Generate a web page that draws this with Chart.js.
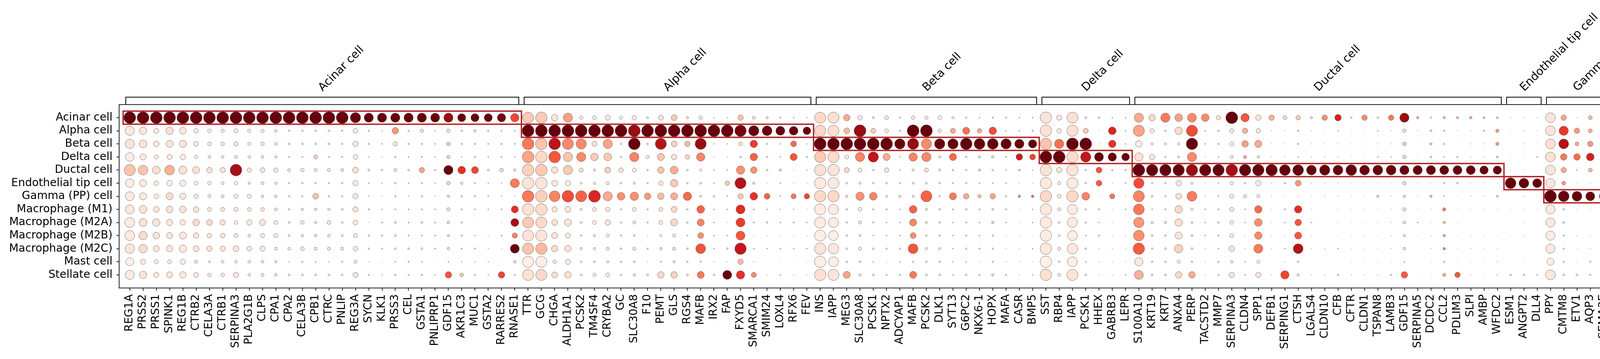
<!DOCTYPE html>
<html lang="en">
<head>
<meta charset="UTF-8">
<title>Marker gene dot plot</title>
<script src="https://cdn.jsdelivr.net/npm/chart.js@4.4.1/dist/chart.umd.min.js"></script>
<style>
  html, body { margin: 0; padding: 0; background: #fff; }
  #wrap { position: relative; width: 5471px; height: 920px; }
  #dots { position: absolute; left: 0; top: 0; }
  #totals { position: absolute; left: 5084px; top: 0; }
</style>
</head>
<body>
<div id="wrap">
  <canvas id="dots" width="5471" height="920"></canvas>
  <canvas id="totals" width="300" height="920"></canvas>
</div>
<script>
const cellTypes = ['Acinar cell', 'Alpha cell', 'Beta cell', 'Delta cell', 'Ductal cell',
  'Endothelial tip cell', 'Gamma (PP) cell', 'Macrophage (M1)', 'Macrophage (M2A)',
  'Macrophage (M2B)', 'Macrophage (M2C)', 'Mast cell', 'Stellate cell'];
const cellCounts = [8363, 24050, 27558, 4577, 8192, 1541, 1851, 406, 59, 187, 148, 259, 5525];

const genes = [
  'REG1A','PRSS2','PRSS1','SPINK1','REG1B','CTRB2','CELA3A','CTRB1','SERPINA3','PLA2G1B',
  'CLPS','CPA1','CPA2','CELA3B','CPB1','CTRC','PNLIP','REG3A','SYCN','KLK1',
  'PRSS3','CEL','GSTA1','PNLIPRP1','GDF15','AKR1C3','MUC1','GSTA2','RARRES2','RNASE1',
  'TTR','GCG','CHGA','ALDH1A1','PCSK2','TM4SF4','CRYBA2','GC','SLC30A8','F10',
  'PEMT','GLS','RGS4','MAFB','IRX2','FAP','FXYD5','SMARCA1','SMIM24','LOXL4',
  'RFX6','FEV','INS','IAPP','MEG3','SLC30A8','PCSK1','NPTX2','ADCYAP1','MAFB',
  'PCSK2','DLK1','SYT13','G6PC2','NKX6-1','HOPX','MAFA','CASR','BMP5','SST',
  'RBP4','IAPP','PCSK1','HHEX','GABRB3','LEPR','S100A10','KRT19','KRT7','ANXA4',
  'PERP','TACSTD2','MMP7','SERPINA3','CLDN4','SPP1','DEFB1','SERPING1','CTSH','LGALS4',
  'CLDN10','CFB','CFTR','CLDN1','TSPAN8','LAMB3','GDF15','SERPINA5','DCDC2','CCL2',
  'PDLIM3','SLPI','AMBP','WFDC2','ESM1','ANGPT2','DLL4','PPY','CMTM8','ETV1',
  'AQP3','SEMA3E','IFNGR1','IFNGR2','STAT1','CLEC7A','STAT6','SOCS3','MSR1','SOCS3',
  'SCARB1','SRGN','COL6A2','COL1A2','COL1A1','SPARC','COL6A1','COL3A1','COL4A1','PDGFRB',
  'SPON2','TIMP3','TGFB1','COL6A3','FN1','GEM','SFRP2','NDUFA4L2','MGP','INHBA'];

// marker groups, in gene order; each group belongs to the cell type of the same index
const groupLabels = cellTypes;
const groupSizes = [30, 22, 17, 7, 28, 3, 5, 3, 2, 1, 3, 1, 18];

// fraction of cells in group expressing the gene (%)
const fracAcinar = [95,95,95,95,92,92,90,90,90,90, 92,90,88,88,88,85,85,66,57,57, 57,57,57,55,57,48,48,48,50,50,
  73,76,36,57,15,18,26,15,22,7, 26,31,9,16,2,2,28,13,9,5, 3,2,73,73,35,22,8,18,5,16,
  15,18,9,5,3,5,5,3,3,76, 26,73,8,6,3,3,57,36,57,45, 55,45,22,90,50,28,28,18,22,9,
  28,36,5,28,6,28,57,9,5,9, 9,10,7,7,1,1,1,62,28,1, 18,1,18,18,10,0,9,9,0,9,
  3,1,3,3,7,3,5,2,2,1, 3,3,14,2,9,5,2,2,2,3];
const fracAlpha = [57,42,26,42,37,23,16,14,20,14, 14,11,6,6,6,6,5,23,5,2, 36,5,14,2,16,5,10,5,3,3,
  85,85,85,85,80,80,80,80,80,80, 80,80,80,80,80,80,76,66,62,55, 53,45,73,73,31,80,26,18,5,80,
  80,15,26,40,22,43,3,3,5,76, 22,73,26,1,45,3,73,22,6,43, 73,3,5,20,28,22,1,1,6,1,
  0.5,3,0.5,0.5,3,1,16,1,7,5, 1,1,5,14,0.5,1,0.5,62,57,28, 18,18,9,28,31,0,6,7,0,7,
  6,0.5,1,2,3,1,6,1,1,0.5, 6,5,6,1,1,6,1,1,1,28];
const fracBeta = [57,45,29,40,40,24,18,16,20,14, 16,12,7,7,7,7,5,27,5,3, 20,5,5,3,16,5,5,4,5,3,
  78,78,78,73,66,26,57,5,78,6, 73,31,28,73,2,2,18,43,5,3, 31,2,80,80,80,78,80,80,66,73,
  66,66,66,78,70,70,66,57,50,76, 57,80,80,1,43,3,36,9,9,10, 76,3,5,20,36,40,1,1,5,1,
  1,1,0.5,0.5,1,1,16,0.5,9,5, 0.5,1,1,14,0,1,0.5,62,62,18, 28,0.5,31,36,31,0,6,7,0,7,
  5,0.5,1,1,3,1,5,1,1,0.5, 6,3,36,1,1,28,1,5,1,9];
const fracDelta = [52,33,19,26,29,16,11,11,13,11, 11,10,4,4,19,4,4,23,2,1, 5,3,4,2,15,2,5,3,4,2,
  78,78,78,57,57,43,45,5,57,15, 40,28,22,50,1,1,6,43,6,3, 40,5,73,75,18,57,66,40,3,50,
  57,9,40,6,9,10,5,36,31,80, 80,75,66,55,50,45,50,28,5,7, 57,1,3,13,14,10,1,1,3,1,
  1,1,0.5,0.5,3,2,15,0.5,7,3, 5,1,1,7,0.5,0.5,3,62,36,36, 45,18,9,14,10,0,5,5,0,5,
  1,0.5,5,1,1,1,6,1,1,0.5, 6,3,6,0.5,1,6,1,1,0.5,3];
const fracDuctal = [73,61,45,61,47,40,29,27,78,21, 24,21,12,16,14,14,12,31,7,5, 14,6,27,4,57,45,40,7,17,10,
  78,78,36,57,20,9,31,22,18,5, 36,45,6,9,3,3,50,36,6,9, 1,2,76,76,26,18,6,22,3,9,
  20,9,6,5,9,6,3,7,2,76, 28,76,6,31,5,5,80,76,76,76, 76,76,76,78,76,76,76,70,70,62,
  66,62,70,62,62,62,57,57,57,55, 55,55,50,50,0.5,0.5,0,62,28,3, 18,5,40,57,36,0,31,9,0,9,
  3,0.5,5,3,10,1,9,1,10,0.5, 3,3,7,1,3,6,1,1,1,3];
const fracEndothelial = [52,40,23,29,33,19,16,11,16,9, 12,10,4,6,5,4,5,27,3,2, 6,3,4,2,16,10,4,2,2,55,
  78,78,31,27,7,9,14,6,9,5, 22,43,5,7,3,22,73,9,1,3, 1,1,76,73,6,9,6,6,5,7,
  7,6,5,5,3,3,3,1,1,76, 14,73,6,31,1,3,66,5,5,28, 9,1,3,16,5,28,1,6,31,1,
  1,1,0.5,0.5,0.5,0.5,16,0.5,0.5,5, 6,0.5,0.5,0.5,70,62,55,57,18,0.5, 1,0.5,43,43,6,1,5,66,0.5,66,
  5,45,28,3,3,73,5,1,73,0.5, 1,57,45,1,3,1,1,2,31,1];
const fracGamma = [55,40,24,40,33,21,14,12,20,19, 11,10,4,5,31,5,4,27,2,1, 5,2,5,1,10,6,5,3,2,1,
  78,78,70,78,73,80,57,45,50,36, 36,40,50,7,6,3,28,45,31,3, 26,28,76,76,9,50,45,7,9,7,
  73,6,40,28,14,28,5,10,10,76, 18,76,45,0.5,26,1,73,7,5,31, 62,1,3,20,14,14,1,0.5,1,0.5,
  1,1,0.5,0.5,9,1,10,0.5,9,3, 0.5,1,1,7,0,1,0.5,80,70,62, 55,50,9,28,28,0,5,6,0,6,
  0,0.5,5,2,2,1,6,1,1,0.5, 14,2,6,0.5,1,7,1,1,1,5];
const fracM1 = [55,45,31,37,37,29,19,19,20,17, 17,12,6,10,11,10,7,27,5,2, 4,4,4,3,15,5,3,3,3,40,
  78,78,27,31,9,18,22,5,18,5, 18,31,5,45,3,3,55,5,3,2, 2,1,73,64,6,18,5,5,3,45,
  9,6,5,6,5,7,5,1,3,76, 14,64,5,5,1,3,70,3,5,43, 9,3,5,20,3,43,1,5,43,1,
  0,1,0.5,1,0.5,1,15,0.5,1,14, 0.5,0.5,0.5,1,0.5,0.5,0.5,57,6,0.5, 1,0.5,62,57,55,28,10,18,45,18,
  10,76,3,3,6,1,3,1,1,1, 1,3,43,1,0.5,0.5,1,2,1,3];
const fracM2A = [63,47,43,33,28,36,31,27,17,27, 33,18,7,16,9,18,7,23,1,4, 7,4,7,4,12,5,0.3,0.3,1,47,
  73,73,31,40,7,18,28,5,13,5, 18,40,6,40,3,1,55,5,6,3, 5,3,73,64,6,13,5,3,3,40,
  7,6,3,5,3,9,3,1,3,76, 7,64,5,3,1,0,66,10,9,43, 7,3,6,17,3,45,1,3,36,3,
  0,1,0.5,0.5,0.5,1,12,3,0.5,9, 0.5,0,0,0,0,0.5,0,57,7,0, 0,0.5,14,28,7,55,50,6,31,6,
  6,76,0.5,1,0.5,6,0.5,0,2,0, 0.5,3,36,0.5,0,2,1,2,1,2];
const fracM2B = [63,50,36,33,40,28,23,23,18,11, 20,20,7,11,11,11,7,20,5,5, 7,4,4,4,9,5,2,1,4,27,
  73,75,33,26,6,9,14,5,7,1, 7,14,3,31,3,3,55,1,1,1, 1,1,73,62,6,7,3,3,3,31,
  6,6,3,5,3,5,1,1,0.5,76, 7,62,3,5,1,1,70,7,6,40, 7,3,5,18,1,43,1,1,40,1,
  0,0.5,0.5,1,0.5,1,9,0.5,1,10, 0.5,1,0.5,0.5,0.5,1,0,57,5,1, 1,0.5,28,31,9,9,6,55,31,55,
  3,76,1,1,1,1,1,1,0.5,0, 1,5,40,1,1,2,1,2,1,6];
const fracM2C = [60,50,33,35,43,31,27,26,30,23, 26,13,11,18,13,13,13,23,5,4, 6,6,7,4,11,4,4,1.5,1,55,
  73,75,35,35,9,10,14,6,14,5, 10,14,6,62,3,6,76,3,3,3, 3,3,76,68,6,14,6,5,5,62,
  9,9,3,5,5,5,1,1,3,76, 14,68,6,1,1,1,76,6,7,50, 7,1,3,30,1,55,1,3,62,1,
  1,3,0.5,0.5,0.5,1,11,0,1,10, 0.5,1,0.5,1,0,0,0,57,5,0.5, 1,0.5,43,43,18,36,9,57,70,57,
  43,76,1,3,2,1,1,1,1,0.5, 3,1,43,3,0.5,1,1,1,1,6];
const fracMast = [47,26,20,18,26,13,7,11,11,11, 11,9,2,5,3,2,5,13,1,0.5, 3,4,3,0.5,3,2,1.5,1.5,0.5,11,
  73,73,16,27,6,7,9,6,7,1, 5,9,5,5,1,1,28,1,0,0.5, 0.5,0.5,76,62,6,7,3,1,3,5,
  6,6,3,3,1,5,1,1,1,76, 7,62,3,1,1,1,50,6,6,14, 6,1,5,11,3,14,0,1,6,0,
  0,0,0.5,0.5,0.5,0.5,3,0,0.5,5, 0.5,0.5,0.5,1,0,0.5,0,40,5,0.5, 5,0.5,9,9,3,1,1,7,0.5,7,
  0,62,0.5,0.5,0.5,0.5,0.5,0.5,0.3,0.5, 0.5,5,31,0.5,0.5,0.5,0.5,0.5,0.3,1];
const fracStellate = [57,43,26,33,35,26,16,16,28,11, 13,11,7,7,7,7,6,26,4,2, 6,4,5,2,36,16,4,2,36,4,
  73,73,31,36,7,14,18,6,10,7, 36,36,7,40,6,55,50,26,1,3, 1,1,76,73,40,10,7,5,5,40,
  7,7,3,6,5,9,5,1,3,76, 14,73,7,1,1,3,55,7,7,36, 36,1,5,28,3,28,1,50,9,1,
  1,6,1,1,1,5,36,0.5,0.5,14, 28,1,0.5,2,5,6,3,62,7,7, 5,0.5,40,36,18,0.5,10,28,0.5,28,
  5,7,70,80,80,80,70,66,66,62, 62,62,62,57,55,55,50,50,45,45];

// mean expression in group, scaled per gene to 0..1
const exprAcinar = [1,1,1,1,1,1,1,1,1,1, 1,1,1,1,1,1,1,1,1,1, 1,1,1,1,0.9,1,1,1,0.98,0.6,
  0.2,0.2,0.1,0.33,0.06,0.08,0.08,0.05,0.07,0.05, 0.12,0.2,0.05,0.1,0.05,0.05,0.22,0.1,0.05,0.05,
  0.05,0.05,0.15,0.12,0.3,0.07,0.05,0.07,0.05,0.1, 0.06,0.05,0.05,0.05,0.05,0.05,0.05,0.05,0.05,0.1,
  0.08,0.12,0.05,0.05,0.05,0.05,0.3,0.15,0.45,0.33, 0.4,0.4,0.1,1,0.55,0.1,0.28,0.15,0.2,0.1,
  0.38,0.72,0.05,0.4,0.08,0.45,0.9,0.3,0.05,0.25, 0.25,0.3,0.22,0.2,0.05,0.05,0.05,0.1,0.32,0.05,
  0.25,0.05,0.32,0.25,0.3,0,0.4,0.15,0,0.15, 0.05,0.05,0.05,0.05,0.08,0.05,0.05,0.05,0.05,0.05,
  0.05,0.05,0.2,0.05,0.25,0.05,0.05,0.05,0.05,0.05];
const exprAlpha = [0.08,0.08,0.06,0.12,0.07,0.07,0.06,0.06,0.07,0.06, 0.06,0.06,0.05,0.05,0.05,0.05,0.05,0.06,0.05,0.05,
  0.36,0.05,0.1,0.05,0.13,0.05,0.08,0.05,0.05,0.05, 1,1,1,1,1,1,1,1,0.9,1,
  1,1,1,1,1,1,0.97,1,1,1, 1,1,0.15,0.12,0.25,0.9,0.2,0.07,0.05,1,
  1,0.05,0.3,0.48,0.3,0.58,0.05,0.05,0.05,0.12, 0.06,0.12,0.2,0.05,0.7,0.05,0.32,0.06,0.05,0.15,
  0.58,0.05,0.05,0.07,0.28,0.08,0.05,0.05,0.05,0.05, 0.05,0.05,0.05,0.05,0.05,0.05,0.13,0.05,0.12,0.05,
  0.05,0.05,0.05,0.35,0.05,0.05,0.05,0.1,0.64,0.35, 0.28,0.55,0.1,0.25,0.6,0,0.2,0.08,0,0.08,
  0.2,0.05,0.05,0.05,0.05,0.05,0.1,0.05,0.05,0.05, 0.1,0.05,0.1,0.05,0.05,0.1,0.05,0.05,0.05,0.4];
const exprBeta = [0.1,0.1,0.08,0.1,0.09,0.08,0.08,0.08,0.08,0.07, 0.08,0.07,0.05,0.05,0.05,0.05,0.05,0.08,0.05,0.05,
  0.07,0.05,0.05,0.05,0.2,0.05,0.05,0.05,0.05,0.05, 0.45,0.22,0.8,0.4,0.4,0.12,0.32,0.05,1,0.05,
  0.82,0.18,0.25,0.9,0.05,0.05,0.1,0.62,0.05,0.05, 0.5,0.05,1,1,1,1,1,1,1,0.9,
  0.4,1,1,1,1,1,1,1,1,0.22, 0.48,1,1,0.05,0.66,0.05,0.06,0.05,0.05,0.05,
  1,0.05,0.05,0.08,0.33,0.3,0.05,0.05,0.05,0.05, 0.05,0.05,0.05,0.05,0.05,0.05,0.2,0.05,0.2,0.05,
  0.05,0.05,0.05,0.35,0,0.05,0.05,0.12,0.82,0.3, 0.35,0.05,0.4,0.32,0.64,0,0.1,0.06,0,0.06,
  0.05,0.05,0.05,0.05,0.05,0.05,0.05,0.05,0.05,0.05, 0.1,0.05,0.3,0.05,0.05,0.5,0.05,0.1,0.05,0.25];
const exprDelta = [0.04,0.06,0.05,0.06,0.05,0.05,0.05,0.05,0.05,0.05, 0.05,0.05,0.05,0.05,0.18,0.05,0.05,0.06,0.05,0.05,
  0.05,0.05,0.05,0.05,0.16,0.05,0.05,0.05,0.05,0.05, 0.32,0.15,0.55,0.22,0.4,0.2,0.2,0.05,0.42,0.08,
  0.22,0.12,0.15,0.42,0.05,0.05,0.05,0.52,0.05,0.05, 0.56,0.05,0.2,0.14,0.05,0.42,0.78,0.3,0.05,0.42,
  0.4,0.05,0.5,0.05,0.1,0.12,0.05,0.74,0.6,1, 1,0.14,0.78,1,1,1,0.12,0.08,0.05,0.05,
  0.4,0.05,0.05,0.06,0.3,0.1,0.05,0.05,0.05,0.05, 0.05,0.05,0.05,0.05,0.05,0.05,0.16,0.05,0.12,0.05,
  0.05,0.05,0.05,0.2,0.05,0.05,0.05,0.12,0.45,0.5, 0.72,0.48,0.06,0.12,0.25,0,0.05,0.05,0,0.05,
  0.05,0.05,0.05,0.05,0.05,0.05,0.05,0.05,0.05,0.05, 0.05,0.05,0.05,0.05,0.05,0.05,0.05,0.05,0.05,0.05];
const exprDuctal = [0.22,0.22,0.13,0.28,0.12,0.12,0.1,0.1,0.87,0.08, 0.1,0.08,0.07,0.08,0.08,0.08,0.07,0.12,0.07,0.06,
  0.08,0.06,0.32,0.05,1,0.66,0.6,0.05,0.15,0.05, 0.18,0.2,0.12,0.2,0.12,0.06,0.18,0.1,0.07,0.05,
  0.22,0.3,0.05,0.05,0.05,0.05,0.38,0.38,0.05,0.1, 0.05,0.05,0.12,0.1,0.15,0.07,0.05,0.1,0.05,0.05,
  0.12,0.05,0.05,0.05,0.12,0.05,0.05,0.15,0.05,0.1, 0.1,0.1,0.05,0.56,0.05,0.05,1,1,1,1,
  0.9,1,1,0.87,1,1,1,1,1,1, 1,1,1,1,1,1,1,1,1,1,
  1,1,1,1,0.05,0.05,0,0.1,0.3,0.05, 0.25,0.05,0.45,1,0.56,0,0.7,0.1,0,0.1,
  0.05,0.05,0.05,0.05,0.12,0.05,0.15,0.05,0.2,0.05, 0.05,0.05,0.08,0.05,0.05,0.1,0.05,0.05,0.05,0.05];
const exprEndothelial = [0.05,0.06,0.05,0.05,0.05,0.05,0.05,0.05,0.05,0.05, 0.05,0.05,0.05,0.05,0.05,0.05,0.05,0.07,0.05,0.05,
  0.05,0.05,0.05,0.05,0.15,0.08,0.05,0.05,0.05,0.45, 0.1,0.1,0.08,0.05,0.05,0.05,0.07,0.05,0.05,0.05,
  0.07,0.2,0.05,0.05,0.05,0.2,0.82,0.1,0.05,0.05, 0.05,0.05,0.07,0.07,0.05,0.05,0.05,0.05,0.05,0.05,
  0.05,0.05,0.05,0.05,0.05,0.05,0.05,0.05,0.05,0.07, 0.06,0.07,0.05,0.54,0.05,0.05,0.58,0.05,0.05,0.08,
  0.06,0.05,0.05,0.06,0.05,0.06,0.05,0.05,0.36,0.05, 0.05,0.05,0.05,0.05,0.05,0.05,0.15,0.05,0.05,0.05,
  0.1,0.05,0.05,0.05,1,1,1,0.08,0.35,0.05, 0.05,0.05,0.42,0.48,0.1,0.05,0.05,1,0.05,1,
  0.1,0.33,0.12,0.05,0.05,0.9,0.05,0.05,1,0.05, 0.05,0.48,0.56,0.05,0.05,0.05,0.05,0.05,0.4,0.05];
const exprGamma = [0.07,0.07,0.06,0.14,0.07,0.06,0.06,0.06,0.06,0.08, 0.06,0.06,0.05,0.05,0.22,0.05,0.05,0.08,0.05,0.05,
  0.05,0.05,0.05,0.05,0.1,0.05,0.05,0.05,0.05,0.05, 0.45,0.18,0.42,0.58,0.52,0.7,0.3,0.38,0.38,0.35,
  0.25,0.28,0.5,0.08,0.05,0.05,0.2,0.66,0.52,0.05, 0.46,0.6,0.15,0.15,0.08,0.38,0.42,0.05,0.06,0.08,
  0.52,0.05,0.45,0.3,0.25,0.32,0.05,0.4,0.48,0.15, 0.08,0.15,0.42,0.05,0.46,0.05,0.42,0.05,0.05,0.1,
  0.44,0.05,0.05,0.06,0.1,0.06,0.05,0.05,0.05,0.05, 0.05,0.05,0.05,0.05,0.15,0.05,0.1,0.05,0.25,0.05,
  0.05,0.05,0.05,0.18,0,0.05,0.05,1,1,1, 1,1,0.1,0.25,0.5,0,0.05,0.05,0,0.05,
  0,0.05,0.05,0.05,0.05,0.05,0.05,0.05,0.05,0.05, 0.15,0.05,0.05,0.05,0.05,0.15,0.05,0.05,0.05,0.1];
const exprM1 = [0.08,0.1,0.1,0.12,0.1,0.1,0.08,0.08,0.08,0.08, 0.08,0.07,0.06,0.06,0.07,0.06,0.06,0.1,0.06,0.05,
  0.05,0.05,0.05,0.05,0.14,0.05,0.05,0.05,0.05,0.67, 0.12,0.14,0.08,0.08,0.05,0.08,0.08,0.05,0.07,0.05,
  0.08,0.15,0.05,0.52,0.05,0.05,0.68,0.05,0.05,0.05, 0.05,0.05,0.06,0.06,0.05,0.07,0.05,0.05,0.05,0.52,
  0.05,0.05,0.05,0.05,0.05,0.05,0.05,0.05,0.05,0.08, 0.08,0.06,0.05,0.05,0.05,0.05,0.46,0.05,0.05,0.15,
  0.06,0.05,0.05,0.08,0.05,0.5,0.05,0.05,0.68,0.05, 0,0.05,0.05,0.05,0.05,0.05,0.14,0.05,0.05,0.45,
  0.05,0.05,0.05,0.05,0.05,0.05,0.05,0.07,0.06,0.05, 0.05,0.05,1,0.9,1,0.6,0.5,0.25,0.66,0.25,
  0.46,0.9,0.05,0.05,0.08,0.05,0.05,0.05,0.05,0.05, 0.05,0.05,0.3,0.05,0.05,0.05,0.05,0.05,0.05,0.05];
const exprM2A = [0.06,0.12,0.1,0.08,0.06,0.14,0.14,0.1,0.05,0.06, 0.1,0.07,0.04,0.06,0.05,0.08,0.05,0.08,0.05,0.05,
  0.05,0.05,0.05,0.05,0.09,0.05,0.05,0.05,0.05,0.87, 0.2,0.15,0.12,0.1,0.05,0.06,0.1,0.05,0.05,0.05,
  0.06,0.15,0.05,0.42,0.05,0.05,0.62,0.05,0.05,0.05, 0.05,0.05,0.06,0.06,0.05,0.05,0.05,0.05,0.05,0.42,
  0.05,0.05,0.05,0.05,0.05,0.15,0.05,0.05,0.05,0.06, 0.05,0.06,0.05,0.05,0.05,0,0.36,0.05,0.05,0.12,
  0.05,0.05,0.05,0.05,0.05,0.38,0.05,0.05,0.55,0.05, 0,0.05,0.05,0.05,0.05,0.05,0.09,0.05,0.05,0.25,
  0.05,0,0,0,0,0.05,0,0.08,0.06,0, 0,0.05,0.32,0.35,0.2,1,1,0.1,0.42,0.1,
  0.12,0.68,0.05,0.05,0.05,0.05,0.05,0,0.05,0, 0.05,0.05,0.28,0.05,0,0.05,0.05,0.05,0.05,0.05];
const exprM2B = [0.07,0.14,0.1,0.08,0.08,0.09,0.1,0.1,0.07,0.06, 0.08,0.08,0.05,0.06,0.06,0.06,0.05,0.08,0.05,0.05,
  0.05,0.05,0.05,0.05,0.09,0.05,0.05,0.05,0.05,0.42, 0.1,0.1,0.1,0.07,0.05,0.05,0.06,0.05,0.05,0.05,
  0.05,0.1,0.05,0.38,0.05,0.05,0.55,0.05,0.05,0.05, 0.05,0.05,0.04,0.04,0.05,0.05,0.05,0.05,0.05,0.38,
  0.05,0.05,0.05,0.05,0.05,0.05,0.05,0.05,0.05,0.05, 0.05,0.05,0.05,0.05,0.05,0.05,0.38,0.05,0.05,0.1,
  0.05,0.05,0.05,0.07,0.05,0.4,0.05,0.05,0.55,0.05, 0,0.05,0.05,0.05,0.05,0.05,0.09,0.05,0.05,0.3,
  0.05,0.05,0.05,0.05,0.05,0.05,0,0.06,0.05,0.05, 0.05,0.05,0.32,0.38,0.15,0.4,0.35,0.62,0.4,0.62,
  0.05,0.88,0.05,0.05,0.05,0.05,0.05,0.05,0.05,0, 0.05,0.05,0.28,0.05,0.05,0.05,0.05,0.05,0.05,0.25];
const exprM2C = [0.1,0.14,0.1,0.09,0.08,0.1,0.1,0.1,0.1,0.08, 0.08,0.07,0.06,0.07,0.07,0.07,0.08,0.08,0.05,0.05,
  0.05,0.05,0.05,0.05,0.1,0.05,0.05,0.05,0.05,1, 0.22,0.25,0.14,0.1,0.05,0.05,0.1,0.05,0.1,0.05,
  0.1,0.15,0.05,0.56,0.05,0.05,0.78,0.05,0.05,0.05, 0.05,0.05,0.1,0.08,0.05,0.1,0.05,0.05,0.05,0.56,
  0.05,0.05,0.05,0.05,0.05,0.05,0.05,0.05,0.05,0.08, 0.07,0.08,0.05,0.05,0.05,0.05,0.54,0.05,0.05,0.18,
  0.05,0.05,0.05,0.1,0.05,0.45,0.05,0.05,0.82,0.05, 0.05,0.05,0.05,0.05,0.05,0.05,0.1,0,0.05,0.4,
  0.05,0.05,0.05,0.05,0,0,0,0.07,0.05,0.05, 0.05,0.05,0.82,0.72,0.66,0.74,0.4,0.72,1,0.72,
  1,1,0.05,0.05,0.05,0.05,0.05,0.05,0.05,0.05, 0.05,0.05,0.32,0.05,0.05,0.05,0.05,0.05,0.05,0.2];
const exprMast = [0.03,0.05,0.04,0.04,0.05,0.06,0.06,0.05,0.05,0.05, 0.05,0.05,0.05,0.05,0.05,0.05,0.05,0.07,0.05,0.05,
  0.05,0.05,0.05,0.05,0.05,0.05,0.05,0.05,0.05,0.12, 0.04,0.04,0.07,0.06,0.05,0.05,0.05,0.05,0.05,0.05,
  0.05,0.05,0.05,0.05,0.05,0.05,0.25,0.05,0,0.05, 0.05,0.05,0.04,0.04,0.05,0.05,0.05,0.05,0.05,0.05,
  0.05,0.05,0.05,0.05,0.05,0.05,0.05,0.05,0.05,0.03, 0.05,0.04,0.05,0.05,0.05,0.05,0.08,0.05,0.05,0.05,
  0.05,0.05,0.05,0.05,0.05,0.06,0,0.05,0.05,0, 0,0,0.05,0.05,0.05,0.05,0.05,0,0.05,0.05,
  0.05,0.05,0.05,0.05,0,0.05,0,0.04,0.05,0.05, 0.05,0.05,0.08,0.08,0.05,0.05,0.05,0.08,0.05,0.08,
  0,0.42,0.05,0.05,0.05,0.05,0.05,0.05,0.05,0.05, 0.05,0.05,0.15,0.05,0.05,0.05,0.05,0.05,0.05,0.05];
const exprStellate = [0.07,0.1,0.08,0.1,0.08,0.09,0.09,0.08,0.1,0.06, 0.07,0.06,0.05,0.05,0.05,0.05,0.05,0.1,0.05,0.05,
  0.05,0.05,0.05,0.05,0.55,0.22,0.05,0.05,0.6,0.08, 0.12,0.15,0.12,0.12,0.05,0.07,0.08,0.05,0.05,0.05,
  0.15,0.18,0.08,0.45,0.05,1,0.66,0.4,0.05,0.05, 0.05,0.05,0.12,0.1,0.32,0.05,0.05,0.05,0.05,0.45,
  0.05,0.05,0.05,0.05,0.05,0.15,0.05,0.05,0.05,0.12, 0.08,0.1,0.05,0.05,0.05,0.05,0.28,0.05,0.05,0.15,
  0.3,0.05,0.05,0.1,0.05,0.1,0.05,0.6,0.1,0.05, 0.05,0.08,0.05,0.05,0.05,0.05,0.55,0.05,0.05,0.3,
  0.55,0.05,0.05,0.05,0.05,0.1,0.05,0.08,0.06,0.08, 0.05,0.05,0.52,0.3,0.5,0.05,0.58,0.35,0.05,0.35,
  0.05,0.12,1,1,1,1,1,1,0.85,1, 1,1,1,1,1,1,1,1,1,1];

const fracRows = [fracAcinar, fracAlpha, fracBeta, fracDelta, fracDuctal, fracEndothelial, fracGamma,
  fracM1, fracM2A, fracM2B, fracM2C, fracMast, fracStellate];
const exprRows = [exprAcinar, exprAlpha, exprBeta, exprDelta, exprDuctal, exprEndothelial, exprGamma,
  exprM1, exprM2A, exprM2B, exprM2C, exprMast, exprStellate];

const sizeLegend = [20, 40, 60, 80];
const colorTicks = [0, 0.5, 1];

// ---- styling helpers ----
const FONT = 'DejaVu Sans';
Chart.defaults.font.family = FONT;
Chart.defaults.color = '#000';

const REDS = ['#fff5f0', '#fee0d2', '#fcbba1', '#fc9272', '#fb6a4a', '#ef3b2c', '#cb181d', '#a50f15', '#67000d'];
const redsRgb = REDS.map(h => [1, 3, 5].map(k => parseInt(h.slice(k, k + 2), 16)));
function reds(v) {
  const p = Math.min(1, Math.max(0, v)) * (redsRgb.length - 1);
  const i = Math.min(redsRgb.length - 2, Math.floor(p));
  const t = p - i;
  const c = redsRgb[i].map((a, k) => Math.round(a + (redsRgb[i + 1][k] - a) * t));
  return `rgb(${c[0]},${c[1]},${c[2]})`;
}

// dot size: area grows with fraction^1.5, capped at 80 %
const DOT_MAX = 80, DOT_R = 15.3;
function dotRadius(f) {
  return DOT_R * Math.pow(Math.min(f, DOT_MAX) / DOT_MAX, 0.75);
}

const points = [];
fracRows.forEach((row, r) => {
  row.forEach((f, g) => {
    if (f > 0) points.push({ x: g, y: r, r: dotRadius(f), e: exprRows[r][g] });
  });
});

// brackets, labels, highlight boxes, frame and legends
const decor = {
  id: 'decor',
  afterDatasetsDraw(chart) {
    const { ctx, chartArea: a, scales: { x, y } } = chart;
    ctx.save();

    ctx.strokeStyle = '#222';
    ctx.lineWidth = 2;
    ctx.strokeRect(a.left, a.top, a.right - a.left, a.bottom - a.top);

    let start = 0;
    const yb = a.top - 19;
    groupSizes.forEach((n, g) => {
      const end = start + n - 1;
      // red box around the group's own marker genes
      const x1 = x.getPixelForValue(start - 0.5), x2 = x.getPixelForValue(end + 0.5);
      const y1 = y.getPixelForValue(g - 0.5), y2 = y.getPixelForValue(g + 0.5);
      ctx.strokeStyle = '#b22222';
      ctx.lineWidth = 3.5;
      ctx.strokeRect(x1, y1, x2 - x1, y2 - y1);

      // bracket on top
      const xl = x.getPixelForValue(start - 0.3), xr = x.getPixelForValue(end + 0.3);
      ctx.strokeStyle = '#000';
      ctx.lineWidth = 2;
      ctx.beginPath();
      ctx.moveTo(xl, a.top);
      ctx.lineTo(xl, yb);
      ctx.lineTo(xr, yb);
      ctx.lineTo(xr, a.top);
      ctx.stroke();

      const xc = (x.getPixelForValue(start) + x.getPixelForValue(end)) / 2;
      ctx.save();
      ctx.translate(xc + 6, yb - 9);
      ctx.rotate(-Math.PI / 4);
      ctx.font = `29px ${FONT}`;
      ctx.fillStyle = '#000';
      ctx.textAlign = 'left';
      ctx.textBaseline = 'bottom';
      ctx.fillText(groupLabels[g], 0, 0);
      ctx.restore();
      start += n;
    });

    // size legend
    const lx = a.right + 272;
    ctx.fillStyle = '#000';
    ctx.font = `17px ${FONT}`;
    ctx.textAlign = 'center';
    ctx.textBaseline = 'middle';
    ctx.fillText('Fraction of cells', lx, 390);
    ctx.fillText('in group (%)', lx, 411);
    sizeLegend.forEach((f, i) => {
      const cx = a.right + 199 + i * 43.7;
      ctx.beginPath();
      ctx.arc(cx, 452, dotRadius(f), 0, Math.PI * 2);
      ctx.fillStyle = '#808080';
      ctx.fill();
      ctx.strokeStyle = '#5a5a5a';
      ctx.lineWidth = 0.8;
      ctx.stroke();
      ctx.strokeStyle = '#000';
      ctx.lineWidth = 1.5;
      ctx.beginPath();
      ctx.moveTo(cx, 485);
      ctx.lineTo(cx, 491);
      ctx.stroke();
      ctx.fillStyle = '#000';
      ctx.fillText(String(f), cx, 506);
    });

    // colour bar
    const cb0 = a.right + 186, cb1 = a.right + 359, cbT = 704, cbB = 737;
    ctx.fillText('Mean expression', lx, 665);
    ctx.fillText('in group', lx, 687);
    const grad = ctx.createLinearGradient(cb0, 0, cb1, 0);
    REDS.forEach((c, i) => grad.addColorStop(i / (REDS.length - 1), c));
    ctx.fillStyle = grad;
    ctx.fillRect(cb0, cbT, cb1 - cb0, cbB - cbT);
    ctx.strokeStyle = '#000';
    ctx.lineWidth = 1.5;
    ctx.strokeRect(cb0, cbT, cb1 - cb0, cbB - cbT);
    ctx.fillStyle = '#000';
    colorTicks.forEach(t => {
      ctx.fillText(t.toFixed(1), cb0 + (cb1 - cb0) * t, 759);
    });
    ctx.restore();
  }
};

new Chart(document.getElementById('dots'), {
  type: 'bubble',
  data: {
    datasets: [{
      data: points,
      backgroundColor: c => reds(c.raw.e),
      borderColor: 'rgba(80,80,80,0.75)',
      borderWidth: 1
    }]
  },
  options: {
    responsive: false,
    animation: false,
    events: [],
    layout: { padding: { left: 0, right: 387, top: 268, bottom: 0 } },
    plugins: { legend: { display: false }, tooltip: { enabled: false } },
    scales: {
      x: {
        type: 'linear',
        min: -0.8,
        max: genes.length - 0.2,
        afterBuildTicks: s => { s.ticks = genes.map((g, i) => ({ value: i })); },
        afterFit: s => { s.height = 182; },
        ticks: {
          autoSkip: false, minRotation: 90, maxRotation: 90, padding: 9,
          font: { size: 28 }, color: '#000',
          callback: v => genes[v]
        },
        grid: { drawOnChartArea: false, tickLength: 7, tickWidth: 2, tickColor: '#222' },
        border: { display: false }
      },
      y: {
        type: 'linear',
        min: -1,
        max: cellTypes.length,
        reverse: true,
        afterBuildTicks: s => { s.ticks = cellTypes.map((c, i) => ({ value: i })); },
        afterFit: s => { s.width = 305; },
        ticks: {
          autoSkip: false, padding: 10,
          font: { size: 28 }, color: '#000',
          callback: v => cellTypes[v]
        },
        grid: { drawOnChartArea: false, tickLength: 7, tickWidth: 2, tickColor: '#222' },
        border: { display: false }
      }
    }
  },
  plugins: [decor]
});

// square-root axis for the cell totals
class SqrtScale extends Chart.LinearScale {
  getPixelForValue(value) {
    if (value === null || isNaN(value)) return NaN;
    return this.getPixelForDecimal(Math.sqrt(Math.max(0, value) / this.max));
  }
  getValueForPixel(pixel) {
    const d = this.getDecimalForPixel(pixel);
    return d * d * this.max;
  }
}
SqrtScale.id = 'sqrt';
SqrtScale.defaults = Chart.LinearScale.defaults;
Chart.register(SqrtScale);

const countLabels = {
  id: 'countLabels',
  afterDatasetsDraw(chart) {
    const { ctx } = chart;
    ctx.save();
    ctx.font = `28px ${FONT}`;
    ctx.fillStyle = '#000';
    ctx.textAlign = 'left';
    ctx.textBaseline = 'middle';
    chart.getDatasetMeta(0).data.forEach((bar, i) => {
      ctx.fillText(String(cellCounts[i]), bar.x + 9, bar.y + 1);
    });
    ctx.restore();
  }
};

new Chart(document.getElementById('totals'), {
  type: 'bar',
  data: {
    datasets: [{
      data: cellCounts.map((n, i) => ({ x: n, y: i })),
      backgroundColor: '#b22222',
      borderColor: '#000',
      borderWidth: 3,
      borderSkipped: false,
      barThickness: 21
    }]
  },
  options: {
    indexAxis: 'y',
    responsive: false,
    animation: false,
    events: [],
    layout: { padding: { left: 0, right: 130, top: 268, bottom: 182 } },
    plugins: { legend: { display: false }, tooltip: { enabled: false } },
    scales: {
      x: { type: 'sqrt', min: 0, max: 90000, display: false },
      y: { type: 'linear', min: -1, max: cellTypes.length, reverse: true, display: false }
    }
  },
  plugins: [countLabels]
});
</script>
</body>
</html>
